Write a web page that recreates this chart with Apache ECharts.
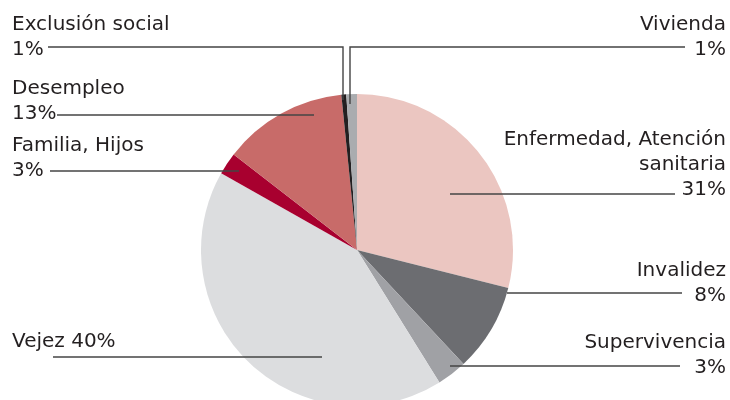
<!DOCTYPE html>
<html>
<head>
<meta charset="utf-8">
<script src="https://cdn.jsdelivr.net/npm/echarts@6/dist/echarts.min.js"></script>
<style>
  html, body { margin: 0; padding: 0; background: #fff; }
  #chart { width: 730px; height: 400px; }
</style>
</head>
<body>
<div id="chart"></div>
<script>
// slices, clockwise from 12 o'clock
const categories = ['Enfermedad, Atención\nsanitaria', 'Invalidez', 'Supervivencia', 'Vejez',
  'Familia, Hijos', 'Desempleo', 'Exclusión social', 'Vivienda'];
// slice sizes as drawn (measured angles)
const sliceValues = [28.9, 9.1, 3.1, 42.0, 2.3, 12.9, 0.5, 1.1];
// percentages as printed on the labels
const pctLabels = [31, 8, 3, 40, 3, 13, 1, 1];
const colors = ['#ebc6c1', '#6c6d71', '#a0a1a5', '#dcdddf', '#a8002f', '#c86b69', '#231f20', '#aaacaf'];

// label placement: text anchor, leader line (text end -> inside slice)
const layout = [
  { x: 726, y: 127, align: 'right', line: [[675, 194], [450, 194]] },
  { x: 726, y: 258, align: 'right', line: [[682, 293], [507, 293]] },
  { x: 726, y: 330, align: 'right', line: [[680, 366], [450, 366]] },
  { x: 12, y: 329, align: 'left', inline: true, line: [[53, 357], [322, 357]] },
  { x: 12, y: 133, align: 'left', line: [[50, 171], [239, 171]] },
  { x: 12, y: 76, align: 'left', line: [[57, 115], [314, 115]] },
  { x: 12, y: 12, align: 'left', line: [[48, 47], [343, 47], [343, 100]] },
  { x: 726, y: 12, align: 'right', line: [[685, 47], [350, 47], [350, 104]] }
];

const chart = echarts.init(document.getElementById('chart'));

const pieBase = {
  type: 'pie',
  center: [357, 250],
  radius: 156,
  startAngle: 90,
  clockwise: true,
  avoidLabelOverlap: false,
  silent: true,
  emphasis: { disabled: true }
};

chart.setOption({
  animation: false,
  series: [
    // the slices
    Object.assign({}, pieBase, {
      z: 2,
      itemStyle: { borderWidth: 0 },
      label: { show: false },
      labelLine: { show: false },
      data: categories.map((name, i) => ({
        name: name,
        value: sliceValues[i],
        itemStyle: { color: colors[i] }
      }))
    }),
    // same pie, invisible, only carries labels and leader lines above the slices
    Object.assign({}, pieBase, {
      z: 3,
      itemStyle: { color: 'rgba(0,0,0,0)', borderWidth: 0 },
      data: categories.map((name, i) => ({ name: name, value: sliceValues[i] })),
      label: {
        show: true,
        position: 'outside',
        fontFamily: 'DejaVu Sans',
        fontSize: 20,
        lineHeight: 25,
        color: '#231f20',
        formatter: p => {
          const l = layout[p.dataIndex];
          return p.name + (l.inline ? ' ' : '\n') + pctLabels[p.dataIndex] + '%';
        }
      },
      labelLine: {
        show: true,
        smooth: false,
        lineStyle: { color: '#444', width: 1.4 }
      },
      labelLayout: p => {
        const l = layout[p.dataIndex];
        return {
          x: l.x,
          y: l.y,
          align: l.align,
          verticalAlign: 'top',
          labelLinePoints: l.line
        };
      }
    })
  ]
});
</script>
</body>
</html>
